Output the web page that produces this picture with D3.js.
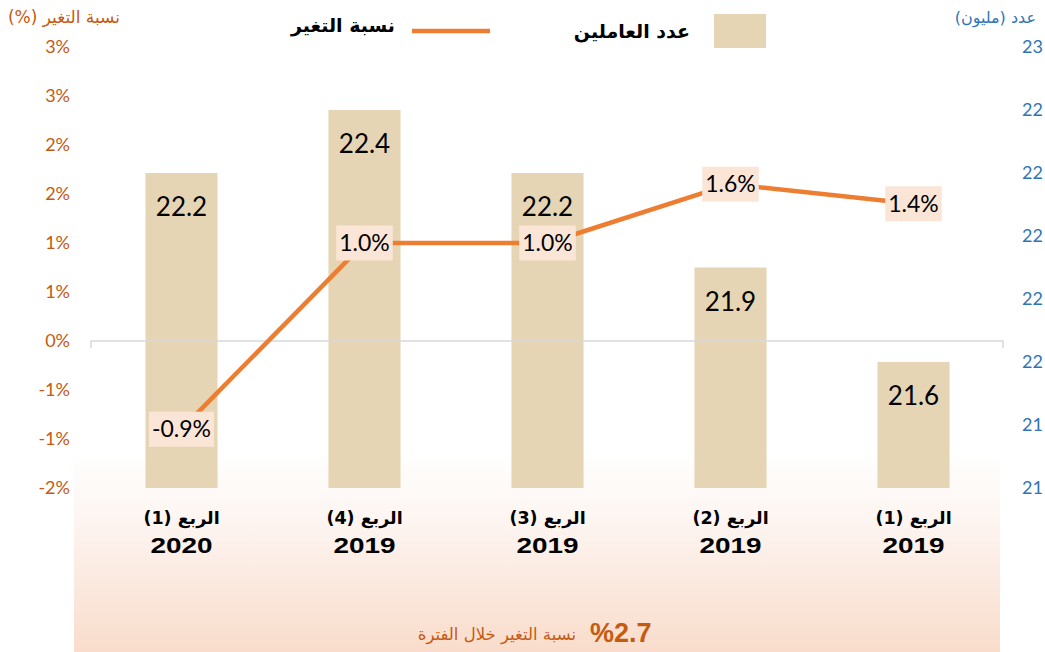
<!DOCTYPE html>
<html>
<head>
<meta charset="utf-8">
<script src="https://cdn.jsdelivr.net/npm/d3@7"></script>
<style>
  html, body { margin: 0; padding: 0; background: #ffffff; }
  svg { display: block; }
</style>
</head>
<body>
<svg id="chart" width="1045" height="652"></svg>
<script>
// ---- data (chronological order; drawn right-to-left) ----
const quarters = ["الربع (1)", "الربع (2)", "الربع (3)", "الربع (4)", "الربع (1)"];
const years = ["2019", "2019", "2019", "2019", "2020"];
const workers = [21.6, 21.9, 22.2, 22.4, 22.2];      // عدد العاملين (مليون)
const changePct = [1.4, 1.6, 1.0, 1.0, -0.9];       // نسبة التغير (%)
const leftTickValues = [-1.5, -1.0, -0.5, 0, 0.5, 1.0, 1.5, 2.0, 2.5, 3.0];
const leftTickLabels = ["-2%", "-1%", "-1%", "0%", "1%", "1%", "2%", "2%", "3%", "3%"];
const rightTickValues = [21.2, 21.4, 21.6, 21.8, 22.0, 22.2, 22.4, 22.6];
const rightTickLabels = ["21", "21", "22", "22", "22", "22", "22", "23"];
const periodChange = "%2.7";

const C = {
  bar: "#E6D5B4", line: "#ED7D31", labelBox: "#FBE5D6",
  orange: "#C55A11", blue: "#2E75B6", axis: "#D9D9D9"
};

const svg = d3.select("#chart");
const defs = svg.append("defs");
const grad = defs.append("linearGradient").attr("id", "bg").attr("x1", 0).attr("y1", 0).attr("x2", 0).attr("y2", 1);
grad.append("stop").attr("offset", "0%").attr("stop-color", "#ffffff");
grad.append("stop").attr("offset", "35%").attr("stop-color", "#FDF5F1");
grad.append("stop").attr("offset", "100%").attr("stop-color", "#F9DCCB");

// background panel at the bottom
svg.append("rect").attr("x", 74).attr("y", 450).attr("width", 926).attr("height", 202).attr("fill", "url(#bg)");

const idx = d3.range(quarters.length);
const x = d3.scaleBand().domain(idx.slice().reverse()).range([90, 1005]).paddingInner(0.606).paddingOuter(0.303);
const yL = d3.scaleLinear().domain([-1.5, 3.0]).range([488, 47]);
const yR = d3.scaleLinear().domain([21.2, 22.6]).range([488, 47]);
const cx = i => x(i) + x.bandwidth() / 2;

// bars
svg.append("g").selectAll("rect").data(idx).join("rect")
  .attr("x", i => x(i)).attr("width", x.bandwidth())
  .attr("y", i => yR(workers[i])).attr("height", i => yR.range()[0] - yR(workers[i]))
  .attr("fill", C.bar);

// bar value labels
svg.append("g").selectAll("text").data(idx).join("text")
  .attr("x", cx).attr("y", i => yR(workers[i]) + 43)
  .attr("text-anchor", "middle")
  .attr("font-family", "Lato, 'DejaVu Sans', sans-serif").attr("font-size", 26)
  .attr("fill", "#000").text(i => workers[i].toFixed(1));

// zero line with end ticks
const z = yL(0);
svg.append("path")
  .attr("d", `M91,${z + 7}V${z}H1003V${z + 7}`)
  .attr("fill", "none").attr("stroke", C.axis).attr("stroke-width", 1.5);

// change line
const line = d3.line().x(i => cx(i)).y(i => yL(changePct[i]));
svg.append("path").datum(idx).attr("d", line)
  .attr("fill", "none").attr("stroke", C.line).attr("stroke-width", 4.5).attr("stroke-linejoin", "round");

// change labels with boxes
const lg = svg.append("g").selectAll("g").data(idx).join("g")
  .attr("transform", i => `translate(${cx(i)},${yL(changePct[i])})`);
const lt = lg.append("text")
  .attr("text-anchor", "middle").attr("dy", "0.36em")
  .attr("font-family", "Lato, 'DejaVu Sans', sans-serif").attr("font-size", 23)
  .attr("fill", "#000").text(i => changePct[i].toFixed(1) + "%");
lt.each(function() {
  const b = this.getBBox();
  d3.select(this.parentNode).insert("rect", "text")
    .attr("x", b.x - 3).attr("y", -17.5).attr("width", b.width + 6).attr("height", 35)
    .attr("fill", C.labelBox);
});

// left axis
const axL = svg.append("g").attr("transform", "translate(75,0)")
  .call(d3.axisLeft(yL).tickValues(leftTickValues).tickSize(0).tickPadding(5)
    .tickFormat(d => leftTickLabels[leftTickValues.indexOf(d)]));
axL.select(".domain").remove();
axL.selectAll("text").attr("font-family", "Lato, 'DejaVu Sans', sans-serif").attr("font-size", 18).attr("fill", C.orange);

// right axis
const axR = svg.append("g").attr("transform", "translate(1017,0)")
  .call(d3.axisRight(yR).tickValues(rightTickValues).tickSize(0).tickPadding(5)
    .tickFormat(d => rightTickLabels[rightTickValues.indexOf(d)]));
axR.select(".domain").remove();
axR.selectAll("text").attr("font-family", "Lato, 'DejaVu Sans', sans-serif").attr("font-size", 18).attr("fill", C.blue);

// x category labels
const xl = svg.append("g").selectAll("g").data(idx).join("g")
  .attr("transform", i => `translate(${cx(i)},0)`);
xl.append("text").attr("y", 524).attr("text-anchor", "middle").attr("direction", "rtl")
  .attr("font-family", "'DejaVu Sans', sans-serif").attr("font-weight", "bold").attr("font-size", 17.5)
  .attr("fill", "#000").text(i => quarters[i]);
xl.append("text").attr("y", 553).attr("text-anchor", "middle")
  .attr("font-family", "'Liberation Sans', Arial, sans-serif").attr("font-weight", "bold").attr("font-size", 22)
  .attr("textLength", 62).attr("lengthAdjust", "spacingAndGlyphs")
  .attr("fill", "#000").text(i => years[i]);

// axis titles (rtl: text-anchor start = right edge)
svg.append("text").attr("x", 120).attr("y", 23).attr("text-anchor", "start").attr("direction", "rtl")
  .attr("font-family", "'DejaVu Sans', sans-serif").attr("font-size", 17).attr("fill", C.orange)
  .text("نسبة التغير (%)");
svg.append("text").attr("x", 1036).attr("y", 23).attr("text-anchor", "start").attr("direction", "rtl")
  .attr("font-family", "'DejaVu Sans', sans-serif").attr("font-size", 16).attr("fill", C.blue)
  .text("عدد (مليون)");

// legend
svg.append("rect").attr("x", 714).attr("y", 14).attr("width", 52).attr("height", 34).attr("fill", C.bar);
svg.append("text").attr("x", 690).attr("y", 38).attr("text-anchor", "end").attr("direction", "ltr")
  .attr("font-family", "'DejaVu Sans', sans-serif").attr("font-weight", "bold").attr("font-size", 19)
  .attr("fill", "#000").text("عدد العاملين");
svg.append("line").attr("x1", 412).attr("x2", 490).attr("y1", 31).attr("y2", 31)
  .attr("stroke", C.line).attr("stroke-width", 4.5);
svg.append("text").attr("x", 395).attr("y", 32).attr("text-anchor", "end").attr("direction", "ltr")
  .attr("font-family", "'DejaVu Sans', sans-serif").attr("font-weight", "bold").attr("font-size", 19)
  .attr("fill", "#000").text("نسبة التغير");

// period change note
svg.append("text").attr("x", 590).attr("y", 642).attr("text-anchor", "start").attr("direction", "ltr")
  .attr("font-family", "'Liberation Sans', Arial, sans-serif").attr("font-weight", "bold").attr("font-size", 27)
  .attr("fill", C.orange).text(periodChange);
svg.append("text").attr("x", 576).attr("y", 640).attr("text-anchor", "end").attr("direction", "ltr")
  .attr("font-family", "'DejaVu Sans', sans-serif").attr("font-size", 16.5)
  .attr("fill", C.orange).text("نسبة التغير خلال الفترة");
</script>
</body>
</html>
